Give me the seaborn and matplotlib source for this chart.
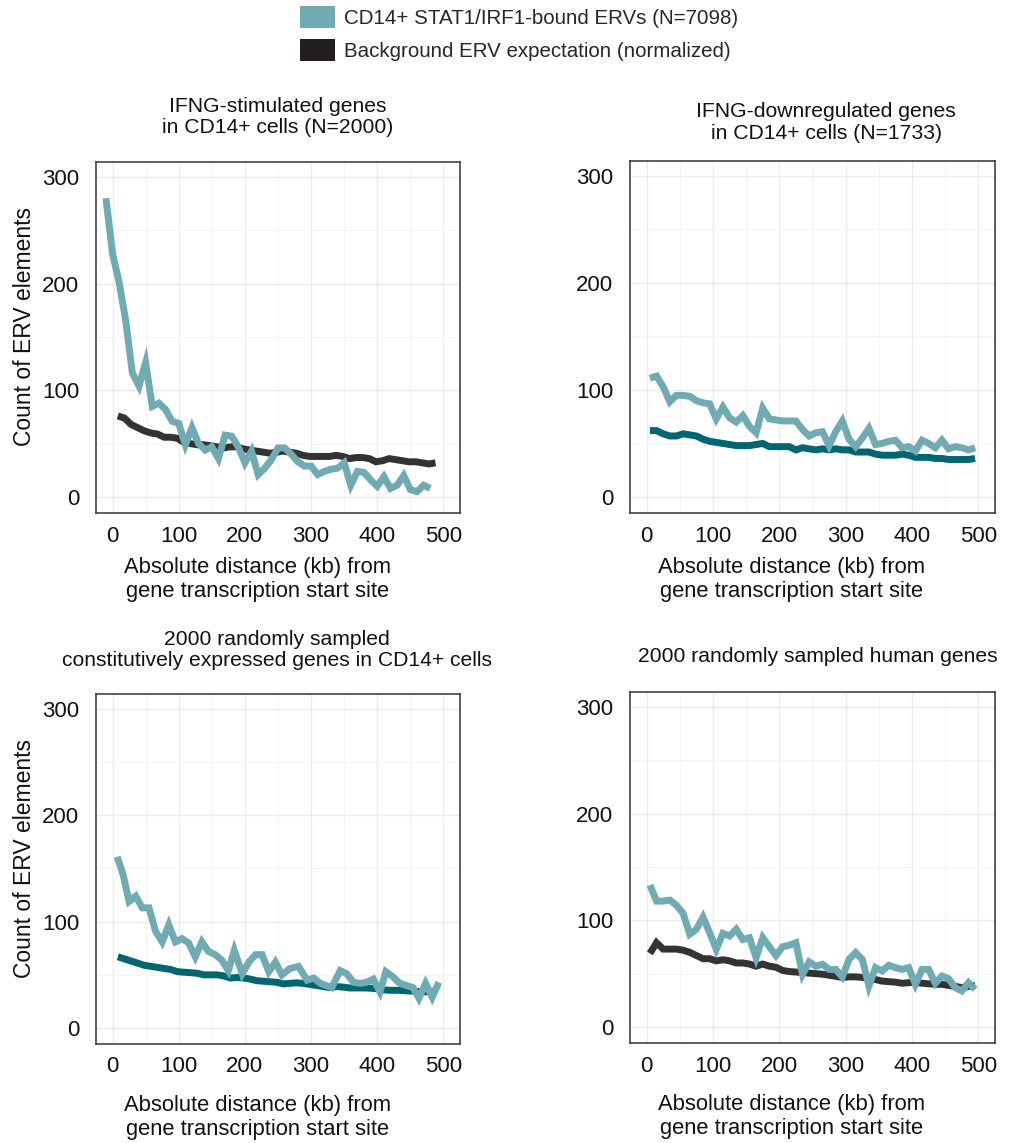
import numpy as np
import pandas as pd
import matplotlib
matplotlib.use("Agg")
import matplotlib.pyplot as plt
from matplotlib.patches import Patch
from matplotlib.ticker import MultipleLocator
import seaborn as sns

# ---------------- data ----------------
TEAL_NAME = "CD14+ STAT1/IRF1-bound ERVs (N=7098)"
BG_NAME = "Background ERV expectation (normalized)"

titles = [
    "IFNG-stimulated genes\nin CD14+ cells (N=2000)",
    "IFNG-downregulated genes\nin CD14+ cells (N=1733)",
    "2000 randomly sampled\nconstitutively expressed genes in CD14+ cells",
    "2000 randomly sampled human genes",
]

# panel 1: IFNG-stimulated
p1_teal_dist = list(range(-10, 481, 10))
p1_teal = [280, 228, 201, 165, 116, 104, 126, 85, 88, 82, 71, 69, 49, 65, 50, 44, 47, 36, 58, 57,
           47, 32, 43, 21, 27, 35, 46, 46, 40, 33, 29, 29, 21, 24, 26, 27, 32, 11, 24, 23,
           16, 10, 19, 8, 11, 20, 7, 5, 11, 8]
p1_bg_dist = list(range(8, 489, 10))
p1_bg = [76, 74, 68, 65, 62, 60, 59, 56, 56, 55, 51, 50, 49, 49, 48, 47, 46, 47, 47, 45,
         44, 43, 42, 41, 42, 43, 42, 41, 39, 38, 38, 38, 38, 39, 38, 36, 37, 37, 36, 33,
         34, 36, 35, 34, 33, 33, 32, 31, 32]

# panel 2: IFNG-downregulated
p2_teal_dist = list(range(5, 496, 10))
p2_teal = [111, 113, 103, 89, 95, 95, 94, 90, 88, 87, 73, 84, 74, 70, 76, 66, 60, 83, 73, 72,
           71, 71, 71, 63, 57, 60, 61, 48, 61, 71, 54, 47, 55, 64, 49, 50, 52, 53, 46, 47,
           43, 53, 50, 46, 53, 45, 47, 46, 44, 46]
p2_bg_dist = list(range(5, 496, 10))
p2_bg = [62, 62, 59, 57, 57, 59, 58, 57, 54, 52, 51, 50, 49, 48, 48, 48, 49, 50, 47, 47,
         47, 47, 44, 46, 45, 44, 45, 44, 45, 44, 44, 42, 42, 42, 40, 39, 39, 39, 40, 39,
         37, 37, 37, 36, 36, 35, 35, 35, 35, 36]

# panel 3: constitutively expressed
p3_teal_dist = [7, 16, 25, 35, 45, 55, 65, 75, 85, 95, 105, 115, 125, 135, 145, 155, 165, 175, 184, 196,
                206, 216, 226, 236, 246, 256, 268, 281, 294, 304, 314, 331, 344, 354, 364, 374, 384, 394, 404, 413,
                424, 434, 444, 454, 463, 473, 483, 493]
p3_teal = [161, 144, 119, 124, 113, 113, 91, 81, 97, 81, 84, 80, 67, 81, 72, 69, 64, 54, 73, 51,
           62, 69, 69, 53, 62, 50, 56, 58, 45, 47, 42, 38, 54, 51, 43, 42, 43, 46, 34, 53,
           48, 42, 40, 38, 28, 42, 29, 43]
p3_bg_dist = list(range(8, 489, 10))
p3_bg = [67, 65, 63, 61, 59, 58, 57, 56, 55, 53, 52.5, 52, 51.5, 50, 50, 50, 49, 47, 47.5, 47,
         46, 44.5, 44, 43.5, 43, 41.5, 42, 42.5, 42, 41, 40, 39, 38, 39, 38.5, 37.7, 37.7, 37.7, 37.5, 37,
         36, 35.5, 35.5, 35.3, 34.8, 34.5, 34, 34.2, 34.6]

# panel 4: random human genes
p4_teal_dist = list(range(5, 496, 10))
p4_teal = [133, 118, 118, 119, 114, 106.5, 87, 91.6, 103, 88.4, 72.8, 87.8, 85.3, 91.6, 82, 83.7, 65, 83.7, 75.3, 67,
           75.3, 76.6, 79, 49.4, 61, 57, 58.8, 54, 54, 47, 63.4, 69.7, 63.4, 38.4, 55.6, 52.5, 57.8, 55.6, 54, 55.6,
           40, 54, 54, 41, 47.8, 45.3, 37, 33.8, 41.6, 35.3]
p4_bg_dist = list(range(5, 496, 10))
p4_bg = [69, 79, 73, 73, 73, 72, 70, 67, 64, 64, 62, 63, 62, 60, 60, 59, 57, 59, 57, 56,
         53, 52, 51.5, 51, 50.5, 50, 49.5, 48.5, 47.5, 46.5, 47, 47, 46.5, 45.5, 44.5, 43, 42.5, 42, 41, 41.5,
         42, 41, 40.5, 40, 40, 39, 38, 37, 38, 39]

x_ticks = [0, 100, 200, 300, 400, 500]
y_ticks = [0, 100, 200, 300]

TEAL = "#70abb3"
DARK_GRAY = "#333333"
DARK_TEAL = "#006670"
bg_colors = [DARK_GRAY, DARK_TEAL, DARK_TEAL, DARK_GRAY]

panels = [
    (p1_teal_dist, p1_teal, p1_bg_dist, p1_bg),
    (p2_teal_dist, p2_teal, p2_bg_dist, p2_bg),
    (p3_teal_dist, p3_teal, p3_bg_dist, p3_bg),
    (p4_teal_dist, p4_teal, p4_bg_dist, p4_bg),
]

# ---------------- style ----------------
sns.set_theme(style="white")
plt.rcParams["font.family"] = ["Liberation Sans", "DejaVu Sans"]

W, H = 1012, 1143
fig = plt.figure(figsize=(W / 100, H / 100), dpi=100)

# axes boxes in pixels: (left, top, right, bottom)
boxes = [(96, 162, 460, 513), (630, 161, 995, 513), (96, 694, 460, 1044), (630, 692, 995, 1043)]
title_x = [0.50, 0.537, 0.497, 0.515]
title_y = [1.070, 1.051, 1.068, 1.073]
xlabel_y = [-0.124, -0.124, -0.146, -0.146]

for i, (td, tv, bd, bv) in enumerate(panels):
    l, t, r, b = boxes[i]
    ax = fig.add_axes([l / W, 1 - b / H, (r - l) / W, (b - t) / H])
    df = pd.concat([
        pd.DataFrame({"dist": bd, "count": bv, "series": BG_NAME}),
        pd.DataFrame({"dist": td, "count": tv, "series": TEAL_NAME}),
    ], ignore_index=True)
    sns.lineplot(data=df, x="dist", y="count", hue="series", hue_order=[BG_NAME, TEAL_NAME],
                 palette={BG_NAME: bg_colors[i], TEAL_NAME: TEAL}, linewidth=5.0,
                 sort=False, legend=False, ax=ax, solid_joinstyle="miter", solid_capstyle="butt")
    ax.set_xlim(-25, 525)
    ax.set_ylim(-15, 314)
    ax.set_xticks(x_ticks)
    ax.set_yticks(y_ticks)
    ax.xaxis.set_minor_locator(MultipleLocator(50))
    ax.yaxis.set_minor_locator(MultipleLocator(50))
    ax.grid(True, which="major", color="#ebebeb", linewidth=1.0)
    ax.grid(True, which="minor", color="#f4f4f4", linewidth=0.7)
    ax.set_axisbelow(True)
    for s in ax.spines.values():
        s.set_color("#333333")
        s.set_linewidth(1.1)
        s.set_visible(True)
    ax.tick_params(axis="both", which="major", direction="out", length=4, width=1,
                   color="#444444", labelsize=16, labelcolor="#111111", pad=5)
    ax.tick_params(axis="y", which="major", pad=8)
    ax.tick_params(which="minor", length=0)
    ax.set_xlabel("Absolute distance (kb) from\ngene transcription start site", fontsize=15.8,
                  color="#111111", linespacing=1.2)
    ax.xaxis.set_label_coords(0.443, xlabel_y[i])
    ax.xaxis.label.set_va("top")
    if i in (0, 2):
        ax.set_ylabel("Count of ERV elements", fontsize=16.5, color="#111111")
        ax.yaxis.set_label_coords(-0.165, 0.53)
    else:
        ax.set_ylabel("")
    ax.text(title_x[i], title_y[i], titles[i], transform=ax.transAxes, ha="center", va="bottom",
            fontsize=15.2, color="#111111", linespacing=1.17, multialignment="center")

handles = [Patch(facecolor=TEAL, edgecolor="none", label=TEAL_NAME),
           Patch(facecolor="#231f20", edgecolor="none", label=BG_NAME)]
fig.legend(handles=handles, loc="upper left", bbox_to_anchor=(300 / W, 1 - 6 / H),
           frameon=False, fontsize=14.8, handlelength=1.7, handleheight=1.3,
           handletextpad=0.45, labelspacing=0.5, borderpad=0, borderaxespad=0)

fig.savefig("out.png", dpi=100)
